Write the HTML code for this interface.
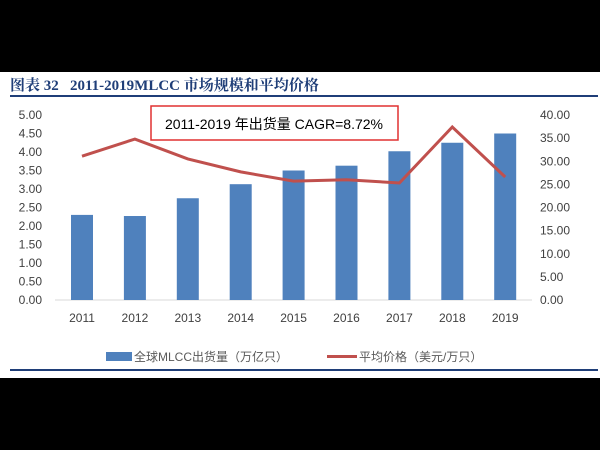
<!DOCTYPE html>
<html><head><meta charset="utf-8"><style>
body{margin:0;width:600px;height:450px;background:#000;overflow:hidden;font-family:"Liberation Sans","Noto Sans CJK SC",sans-serif}
#w{position:absolute;left:0;top:72px;width:600px;height:306px;background:#fff}
</style></head><body>
<div id="w"></div>
<svg id="c" width="600" height="450" style="position:absolute;left:0;top:0">
<text x="10" y="90" font-family="Liberation Serif,'Noto Serif CJK SC',serif" font-weight="bold" font-size="15" fill="#1f3e78">图表 32 &#160; 2011-2019MLCC 市场规模和平均价格</text>
<line x1="10" y1="96" x2="598" y2="96" stroke="#1f3e78" stroke-width="2"/>
<line x1="10" y1="370" x2="598" y2="370" stroke="#1f3e78" stroke-width="2"/>
<line x1="55" y1="300" x2="532" y2="300" stroke="#d9d9d9"/>
<g id="bars"></g><g id="ticks"></g>
<polyline id="line" fill="none" stroke="#c0504d" stroke-width="3"/>
<rect x="151" y="106" width="247" height="34" fill="#fff" stroke="#e03030" stroke-width="1.5"/>
<text x="274" y="129" text-anchor="middle" font-size="14" fill="#000">2011-2019 年出货量 CAGR=8.72%</text>
<rect x="106" y="352" width="26" height="9" fill="#4f81bd"/>
<text x="134" y="361" font-size="12" fill="#595959">全球MLCC出货量（万亿只）</text>
<rect x="327" y="355" width="30" height="3" fill="#c0504d"/>
<text x="359" y="361" font-size="12" fill="#595959">平均价格（美元/万只）</text>
</svg>
<script>
const years=["2011","2012","2013","2014","2015","2016","2017","2018","2019"];
const shipments=[2.30,2.27,2.75,3.13,3.50,3.63,4.02,4.25,4.50];
const prices=[31.1,34.8,30.5,27.7,25.7,26.0,25.3,37.4,26.6];
const leftTicks=["0.00","0.50","1.00","1.50","2.00","2.50","3.00","3.50","4.00","4.50","5.00"];
const rightTicks=["0.00","5.00","10.00","15.00","20.00","25.00","30.00","35.00","40.00"];
const NS="http://www.w3.org/2000/svg";
const x=i=>82+i*52.9, yL=v=>300-v*37, yR=v=>300-v*185/40;
const bars=document.getElementById('bars'),ticks=document.getElementById('ticks');
function t(px,py,s,anchor,name){const e=document.createElementNS(NS,'text');e.setAttribute('x',px);e.setAttribute('y',py);e.setAttribute('text-anchor',anchor);e.setAttribute('font-size','12');e.setAttribute('fill','#404040');e.textContent=s;


ticks.appendChild(e);}
years.forEach((yr,i)=>{const r=document.createElementNS(NS,'rect');r.setAttribute('x',x(i)-11);r.setAttribute('y',yL(shipments[i]));r.setAttribute('width',22);r.setAttribute('height',300-yL(shipments[i]));r.setAttribute('fill','#4f81bd');


bars.appendChild(r);t(x(i),322,yr,'middle','x-tick-'+yr);});
leftTicks.forEach(s=>t(42,yL(+s)+4,s,'end','left-tick'));
rightTicks.forEach(s=>t(540,yR(+s)+4,s,'start','right-tick'));
document.getElementById('line').setAttribute('points',prices.map((p,i)=>x(i)+','+yR(p)).join(' '));
</script>
</body></html>
